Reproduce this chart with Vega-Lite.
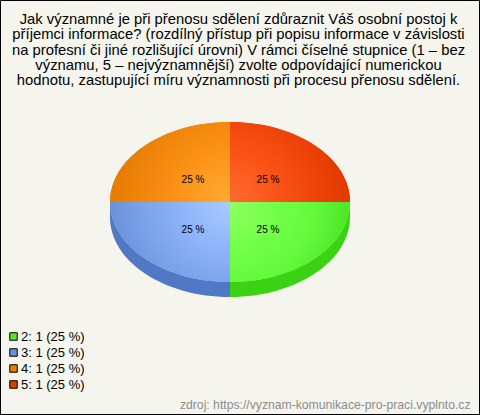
{
"$schema":"https://vega.github.io/schema/vega-lite/v6.json",
"width":479,"height":414,"autosize":"none","padding":{"left":0,"top":0,"right":1,"bottom":1},
"background":"#f5f5ee",
"config":{"view":{"stroke":"#000000","strokeWidth":1,"fill":"#f5f5ee"},"font":"Liberation Sans"},
"title":{"text":["Jak významné je při přenosu sdělení zdůraznit Váš osobní postoj k","příjemci informace? (rozdílný přístup při popisu informace v závislosti","na profesní či jiné rozlišující úrovni) V rámci číselné stupnice (1 – bez","významu, 5 – nejvýznamnější) zvolte odpovídající numerickou","hodnotu, zastupující míru významnosti při procesu přenosu sdělení."],
"font":"Liberation Sans","fontSize":14.8,"fontWeight":"normal","color":"#000000","anchor":"middle","lineHeight":15.25,"baseline":"alphabetic","offset":0,"dy":100,"dx":-1},
"data":{"values":[
{"odpoved":"2","pocet":1,"podil":"25 %","popisek":"2: 1 (25 %)"},
{"odpoved":"3","pocet":1,"podil":"25 %","popisek":"3: 1 (25 %)"},
{"odpoved":"4","pocet":1,"podil":"25 %","popisek":"4: 1 (25 %)"},
{"odpoved":"5","pocet":1,"podil":"25 %","popisek":"5: 1 (25 %)"}
]},
"encoding":{
"x":{"datum":0,"type":"quantitative","scale":{"domain":[-230,249],"nice":false,"zero":false},
"axis":{"domain":false,"ticks":false,"labels":false,"grid":false,"title":"zdroj: https://vyznam-komunikace-pro-praci.vyplnto.cz","titleFont":"Liberation Sans","titleFontSize":12.2,"titleFontWeight":"normal","titleColor":"#8c8c8c","titleAnchor":"end","titleAlign":"right","titleBaseline":"alphabetic","titleX":470,"titleY":-6}},
"y":{"datum":0,"type":"quantitative","scale":{"domain":[-212,202],"nice":false,"zero":false},"axis":null}
},
"resolve":{"scale":{"shape":"independent"}},
"layer":[
{"mark":{"type":"point","filled":true,"size":57600,"opacity":1},
"encoding":{
"color":{"field":"popisek","type":"nominal","scale":{"domain":["2: 1 (25 %)","3: 1 (25 %)","4: 1 (25 %)","5: 1 (25 %)"],"range":["#5ce132","#6492dc","#e87d05","#e03c02"]},
"legend":{"orient":"none","legendX":7,"legendY":330,"title":null,"symbolType":"square","symbolSize":56,"symbolStrokeColor":"#000000","symbolStrokeWidth":1,"symbolOpacity":1,"labelFont":"Liberation Sans","labelFontSize":13,"labelColor":"#000000","labelOffset":1,"rowPadding":2,"padding":0}},
"shape":{"field":"odpoved","type":"nominal","legend":null,"scale":{"domain":["2","3","4","5"],"range":[
"M0,0 L1,0 A1,0.6667 0 0 1 0,0.6667 Z",
"M0,0 L0,0.6667 A1,0.6667 0 0 1 -1,0 Z",
"M0,0 L-1,0 A1,0.6667 0 0 1 0,-0.6667 Z",
"M0,0 L0,-0.6667 A1,0.6667 0 0 1 1,0 Z"]}}}},
{"transform":[{"filter":"datum.odpoved==='2'"}],"mark":{"type":"point","filled":true,"opacity":1,"size":57600,"fill":"#3cd214","shape":"M0,0.6667 A1,0.6667 0 0 0 1,0 L1,0.125 A1,0.6667 0 0 1 0,0.7917 Z"}},
{"transform":[{"filter":"datum.odpoved==='3'"}],"mark":{"type":"point","filled":true,"opacity":1,"size":57600,"fill":"#5078c4","shape":"M0,0.6667 L0,0.7917 A1,0.6667 0 0 1 -1,0.125 L-1,0 A1,0.6667 0 0 0 0,0.6667 Z"}},
{"transform":[{"filter":"datum.odpoved==='2'"}],"mark":{"type":"point","filled":true,"opacity":1,"size":57600,"shape":"M0,0 L1,0 A1,0.6667 0 0 1 0,0.6667 Z",
"fill":{"gradient":"radial","x1":0,"y1":0.1667,"r1":0,"x2":0,"y2":0.1667,"r2":0.96,"stops":[{"offset":0,"color":"#90ff60"},{"offset":0.45,"color":"#70ff48"},{"offset":0.75,"color":"#64f83c"},{"offset":1,"color":"#50e82a"}]}}},
{"transform":[{"filter":"datum.odpoved==='3'"}],"mark":{"type":"point","filled":true,"opacity":1,"size":57600,"shape":"M0,0 L0,0.6667 A1,0.6667 0 0 1 -1,0 Z",
"fill":{"gradient":"radial","x1":1,"y1":0.1667,"r1":0,"x2":1,"y2":0.1667,"r2":0.96,"stops":[{"offset":0,"color":"#a8ccff"},{"offset":0.45,"color":"#8cb2fa"},{"offset":0.75,"color":"#7ca2ea"},{"offset":1,"color":"#6c94dc"}]}}},
{"transform":[{"filter":"datum.odpoved==='4'"}],"mark":{"type":"point","filled":true,"opacity":1,"size":57600,"shape":"M0,0 L-1,0 A1,0.6667 0 0 1 0,-0.6667 Z",
"fill":{"gradient":"radial","x1":1,"y1":0.8333,"r1":0,"x2":1,"y2":0.8333,"r2":0.96,"stops":[{"offset":0,"color":"#ffac34"},{"offset":0.45,"color":"#fc9318"},{"offset":0.75,"color":"#f0860c"},{"offset":1,"color":"#e67c02"}]}}},
{"transform":[{"filter":"datum.odpoved==='5'"}],"mark":{"type":"point","filled":true,"opacity":1,"size":57600,"shape":"M0,0 L0,-0.6667 A1,0.6667 0 0 1 1,0 Z",
"fill":{"gradient":"radial","x1":0,"y1":0.8333,"r1":0,"x2":0,"y2":0.8333,"r2":0.96,"stops":[{"offset":0,"color":"#ff6a30"},{"offset":0.45,"color":"#fa5216"},{"offset":0.75,"color":"#ee440a"},{"offset":1,"color":"#e23a00"}]}}},
{"transform":[{"filter":"datum.odpoved==='2'"}],"mark":{"type":"text","font":"Liberation Sans","fontSize":10,"color":"#000000"},"encoding":{"x":{"datum":38},"y":{"datum":-28},"text":{"field":"podil"}}},
{"transform":[{"filter":"datum.odpoved==='3'"}],"mark":{"type":"text","font":"Liberation Sans","fontSize":10,"color":"#000000"},"encoding":{"x":{"datum":-37},"y":{"datum":-28},"text":{"field":"podil"}}},
{"transform":[{"filter":"datum.odpoved==='4'"}],"mark":{"type":"text","font":"Liberation Sans","fontSize":10,"color":"#000000"},"encoding":{"x":{"datum":-37},"y":{"datum":22},"text":{"field":"podil"}}},
{"transform":[{"filter":"datum.odpoved==='5'"}],"mark":{"type":"text","font":"Liberation Sans","fontSize":10,"color":"#000000"},"encoding":{"x":{"datum":38},"y":{"datum":22},"text":{"field":"podil"}}}
]
}
